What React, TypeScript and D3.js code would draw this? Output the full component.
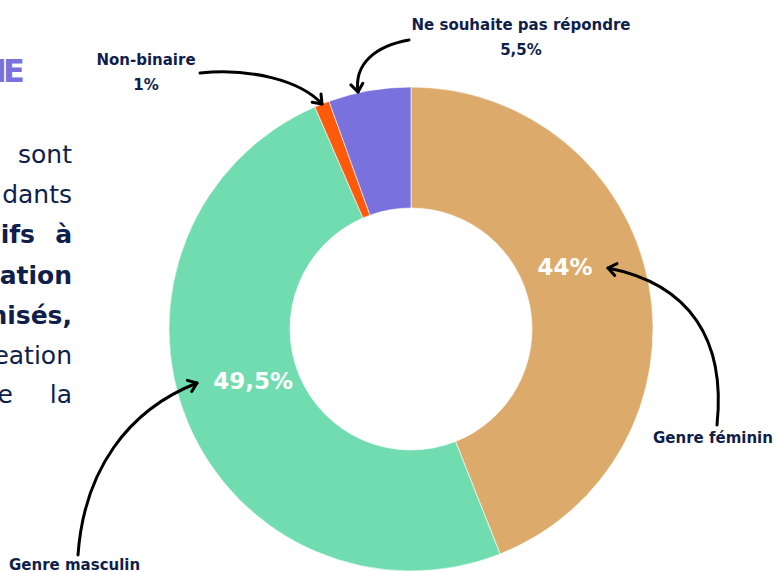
import { useEffect, useRef } from "react";
import * as d3 from "d3";

// gender split (%), clockwise from 12 o'clock
const categories = ["Genre féminin", "Genre masculin", "Non-binaire", "Ne souhaite pas répondre"];
const values = [44, 49.5, 1, 5.5];
const valueLabels = ["44%", "49,5%", "1%", "5,5%"];
const colors = ["#DCAB6B", "#70DCB0", "#FF5A0A", "#7A72DC"];

const navy = "#0F1E4B";
const font = "'DejaVu Sans', Verdana, sans-serif";

export default function App() {
  const ref = useRef<SVGSVGElement>(null);

  useEffect(() => {
    const svg = d3.select(ref.current);
    svg.selectAll("*").remove();

    const cx = 411, cy = 329;
    const outer = 242, inner = 121;

    const defs = svg.append("defs");
    defs.append("marker")
      .attr("id", "head")
      .attr("markerUnits", "userSpaceOnUse")
      .attr("markerWidth", 16).attr("markerHeight", 16)
      .attr("refX", 11).attr("refY", 8)
      .attr("orient", "auto")
      .append("path")
      .attr("d", "M3,2 L11,8 L3,14")
      .attr("fill", "none")
      .attr("stroke", "#000")
      .attr("stroke-width", 3)
      .attr("stroke-linecap", "round")
      .attr("stroke-linejoin", "round");

    // cropped body text on the left
    const left = svg.append("g").attr("font-family", font).attr("fill", navy).attr("font-size", 25);
    left.append("text").attr("x", -5).attr("y", 82)
      .attr("font-size", 32).attr("font-weight", 700).attr("fill", "#7B70DC")
      .attr("letter-spacing", -4)
      .text("IE");
    const lines = [
      { t: "sont", y: 163, b: false },
      { t: "dants", y: 203, b: false },
      { t: "ifs", y: 243, b: true, tail: "à", at: 35 },
      { t: "ation", y: 284, b: true },
      { t: "nisés,", y: 324, b: true },
      { t: "eation", y: 364, b: false },
      { t: "e", y: 403, b: false, tail: "la", at: 13 },
    ];
    lines.forEach(l => {
      const w = l.b ? 700 : 400;
      if (l.tail) {
        left.append("text").attr("x", l.at).attr("y", l.y).attr("text-anchor", "end")
          .attr("font-weight", w).text(l.t);
        left.append("text").attr("x", 72).attr("y", l.y).attr("text-anchor", "end")
          .attr("font-weight", w).text(l.tail);
      } else {
        left.append("text").attr("x", 72).attr("y", l.y).attr("text-anchor", "end")
          .attr("font-weight", w).text(l.t);
      }
    });

    const pie = d3.pie<number>().sort(null).value(d => d);
    const arcs = pie(values);
    const arc = d3.arc<d3.PieArcDatum<number>>().innerRadius(inner).outerRadius(outer);

    const g = svg.append("g").attr("transform", `translate(${cx},${cy})`);
    g.selectAll("path.slice")
      .data(arcs)
      .join("path")
      .attr("class", "slice")
      .attr("d", arc)
      .attr("fill", (_, i) => colors[i])
      .attr("stroke", "#fff")
      .attr("stroke-width", 0.6);

    // in-ring percentage labels for the two big slices
    const labelFrac = [0.43, 0.525];
    const labelR = 166;
    arcs.slice(0, 2).forEach((a, i) => {
      const ang = a.startAngle + labelFrac[i] * (a.endAngle - a.startAngle);
      const [x, y] = d3.pointRadial(ang, labelR);
      g.append("text")
        .attr("x", x).attr("y", y).attr("dy", "0.36em")
        .attr("text-anchor", "middle")
        .attr("font-family", font)
        .attr("font-weight", 700)
        .attr("font-size", 23)
        .attr("fill", "#fff")
        .text(valueLabels[i]);
    });

    // callout labels
    const ann = svg.append("g").attr("font-family", font).attr("font-weight", 700)
      .attr("fill", navy).attr("font-size", 15);
    ann.append("text").attr("x", 521).attr("y", 30).attr("text-anchor", "middle").text(categories[3]);
    ann.append("text").attr("x", 521).attr("y", 55).attr("text-anchor", "middle").text(valueLabels[3]);
    ann.append("text").attr("x", 146).attr("y", 65).attr("text-anchor", "middle").text(categories[2]);
    ann.append("text").attr("x", 146).attr("y", 90).attr("text-anchor", "middle").text(valueLabels[2]);
    ann.append("text").attr("x", 653).attr("y", 443).text(categories[0]);
    ann.append("text").attr("x", 9).attr("y", 570).text(categories[1]);

    const arrows = [
      "M200,73 C250,68 300,80 322,104",
      "M409,40 C375,46 354,64 358,92",
      "M717,425 C726,340 690,284 608,268",
      "M78,555 C84,470 128,410 197,383",
    ];
    svg.append("g").selectAll("path")
      .data(arrows)
      .join("path")
      .attr("d", d => d)
      .attr("fill", "none")
      .attr("stroke", "#000")
      .attr("stroke-width", 3)
      .attr("stroke-linecap", "round")
      .attr("marker-end", "url(#head)");
  }, []);

  return (
    <svg ref={ref} width={778} height={572}
      style={{ position: "absolute", left: 0, top: 0, background: "#fff" }} />
  );
}
